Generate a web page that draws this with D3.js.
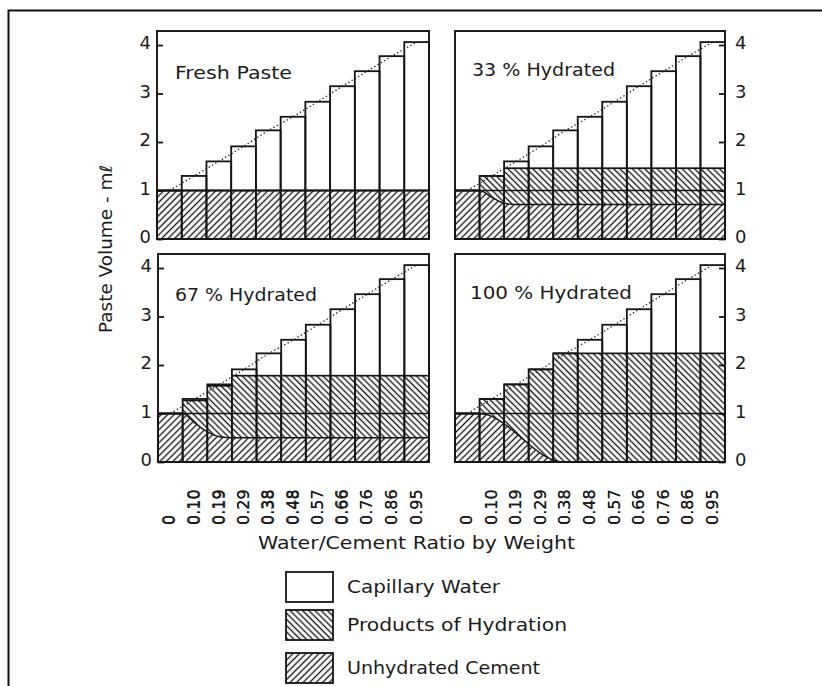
<!DOCTYPE html>
<html><head><meta charset="utf-8">
<script src="https://cdn.jsdelivr.net/npm/d3@7"></script>
<style>
body{margin:0;background:#fff}
svg{display:block}
text{font-family:"DejaVu Sans",sans-serif;fill:#1b1b1b}
</style>
</head><body>
<svg id="chart" width="822" height="686"></svg>
<script>
// ---------- data ----------
const categories = ["0","0.10","0.19","0.29","0.38","0.48","0.57","0.66","0.76","0.86","0.95"];
const totalVolume = [1.0, 1.3, 1.6, 1.91, 2.24, 2.52, 2.83, 3.15, 3.46, 3.77, 4.06];
const panelTitles = ["Fresh Paste", "33 % Hydrated", "67 % Hydrated", "100 % Hydrated"];
// top of the solid (hatched) part of each bar
const solidsFresh = [1, 1, 1, 1, 1, 1, 1, 1, 1, 1, 1];
const solids33 = [1.0, 1.3, 1.46, 1.46, 1.46, 1.46, 1.46, 1.46, 1.46, 1.46, 1.46];
const solids67 = [1.0, 1.27, 1.57, 1.78, 1.78, 1.78, 1.78, 1.78, 1.78, 1.78, 1.78];
const solids100 = [1.0, 1.3, 1.6, 1.91, 2.24, 2.24, 2.24, 2.24, 2.24, 2.24, 2.24];
// boundary of unhydrated cement: [position in bar units, volume]
const cementFresh = [[0, 1], [11, 1]];
const cement33 = [[0, 1], [1, 1], [1.5, 0.86], [2, 0.74], [2.5, 0.71], [11, 0.71]];
const cement67 = [[0, 1], [1, 1], [1.5, 0.8], [2, 0.62], [2.5, 0.52], [3, 0.5], [11, 0.5]];
const cement100 = [[0, 1], [1, 1], [4.4, 0], [11, 0]];
const yTicks = [0, 1, 2, 3, 4];
const legendLabels = ["Capillary Water", "Products of Hydration", "Unhydrated Cement"];
const axisTitleX = "Water/Cement Ratio by Weight";
const axisTitleY = "Paste Volume - mℓ";

// ---------- layout ----------
const panels = [
  {x0:157, x1:429, y0:239, side:"left",  title:panelTitles[0], solids:solidsFresh, cement:cementFresh, tx:175, ty:79, tl:117},
  {x0:455, x1:725, y0:239, side:"right", title:panelTitles[1], solids:solids33,    cement:cement33,    tx:472, ty:76, tl:143},
  {x0:158, x1:429, y0:462, side:"left",  title:panelTitles[2], solids:solids67,    cement:cement67,    tx:175, ty:301, tl:142},
  {x0:455, x1:725, y0:462, side:"right", title:panelTitles[3], solids:solids100,   cement:cement100,   tx:470, ty:299, tl:162}
];
const PH = 208;
const INK = "#151515";

const svg = d3.select("#chart");
svg.append("rect").attr("width",822).attr("height",686).attr("fill","#fff");

// hatch patterns
const defs = svg.append("defs");
function hatch(id, angle, size, sw){
  const p = defs.append("pattern").attr("id",id).attr("patternUnits","userSpaceOnUse")
    .attr("width",size).attr("height",size).attr("patternTransform",`rotate(${angle})`);
  p.append("rect").attr("width",size).attr("height",size).attr("fill","#fff");
  p.append("line").attr("x1",size/2).attr("y1",-1).attr("x2",size/2).attr("y2",size+1)
    .attr("stroke",INK).attr("stroke-width",sw);
}
hatch("cementHatch", 45, 4.6, 1.35);
hatch("productHatch", -45, 4.4, 1.35);

// outer frame
svg.append("path").attr("d","M8.5,686 V10.5 H822").attr("fill","none").attr("stroke","#111").attr("stroke-width",2);

panels.forEach(p => {
  const g = svg.append("g");
  const x = d3.scaleBand().domain(categories).range([p.x0, p.x1]).padding(0);
  const xs = d3.scaleLinear().domain([0, categories.length]).range([p.x0, p.x1]);
  const y = d3.scaleLinear().domain([0, PH/48.5]).range([p.y0, p.y0 - PH]);
  const bw = x.bandwidth();

  // products of hydration (solid region)
  g.selectAll("rect.prod").data(categories).join("rect")
    .attr("x", d => x(d)).attr("width", bw)
    .attr("y", (d,i) => y(p.solids[i])).attr("height", (d,i) => y(0) - y(p.solids[i]))
    .attr("fill","url(#productHatch)");

  // unhydrated cement area
  const area = d3.area().x(d => xs(d[0])).y0(y(0)).y1(d => y(d[1])).curve(d3.curveMonotoneX);
  g.append("path").attr("d", area(p.cement)).attr("fill","url(#cementHatch)");

  // original cement level line
  g.append("line").attr("x1",p.x0).attr("x2",p.x1).attr("y1",y(1)).attr("y2",y(1))
    .attr("stroke",INK).attr("stroke-width",1.5);
  // cement boundary line
  const line = d3.line().x(d => xs(d[0])).y(d => y(d[1])).curve(d3.curveMonotoneX);
  g.append("path").attr("d", line(p.cement)).attr("fill","none").attr("stroke",INK).attr("stroke-width",1.4);

  // top of solids per bar
  g.selectAll("line.sol").data(categories).join("line")
    .attr("x1", d => x(d)).attr("x2", d => x(d) + bw)
    .attr("y1", (d,i) => y(p.solids[i])).attr("y2", (d,i) => y(p.solids[i]))
    .attr("stroke",INK).attr("stroke-width",1.7);

  // bar outlines (total paste volume)
  g.selectAll("rect.bar").data(categories).join("rect")
    .attr("x", d => x(d)).attr("width", bw)
    .attr("y", (d,i) => y(totalVolume[i])).attr("height", (d,i) => y(0) - y(totalVolume[i]))
    .attr("fill","none").attr("stroke",INK).attr("stroke-width",1.8);

  // dotted total line
  const dot = d3.line().x(d => x(d) + bw/2).y((d,i) => y(totalVolume[i]));
  g.append("path").attr("d", dot(categories)).attr("fill","none").attr("stroke","#222")
    .attr("stroke-width",1.3).attr("stroke-dasharray","1.4,2.4");

  // panel frame
  g.append("rect").attr("x",p.x0).attr("y",p.y0-PH).attr("width",p.x1-p.x0).attr("height",PH)
    .attr("fill","none").attr("stroke",INK).attr("stroke-width",1.9);

  // y axis
  const ax = (p.side === "left" ? d3.axisLeft(y) : d3.axisRight(y))
    .tickValues(yTicks).tickSize(-6).tickPadding(p.side === "left" ? 6 : 10).tickFormat(d3.format("d"));
  const ag = svg.append("g").attr("transform",`translate(${p.side === "left" ? p.x0 : p.x1},0)`).call(ax);
  ag.select(".domain").remove();
  ag.selectAll(".tick line").attr("stroke",INK).attr("stroke-width",1.8);
  ag.selectAll(".tick text").attr("font-size",18).attr("font-family","DejaVu Sans, sans-serif")
    .attr("fill","#1b1b1b").attr("dy","0.2em");

  // x labels (rotated)
  svg.append("g").selectAll("text").data(categories).join("text")
    .attr("transform", d => `translate(${x(d) + bw/2 + 5},525) rotate(-90)`)
    .attr("text-anchor","start").attr("font-size",16).text(d => d);

  // panel title
  svg.append("text").attr("x",p.tx).attr("y",p.ty).attr("font-size",17)
    .attr("textLength",p.tl).attr("lengthAdjust","spacingAndGlyphs").text(p.title);
});

// axis titles
svg.append("text").attr("x",258).attr("y",549).attr("font-size",17)
  .attr("textLength",317).attr("lengthAdjust","spacingAndGlyphs").text(axisTitleX);
svg.append("text").attr("transform","translate(112,333) rotate(-90)").attr("font-size",17)
  .attr("textLength",168).attr("lengthAdjust","spacingAndGlyphs").text(axisTitleY);

// legend
const legendFill = ["#fff", "url(#productHatch)", "url(#cementHatch)"];
const legendTop = [572, 610, 653];
const legendLen = [153, 220, 193];
const lg = svg.append("g");
legendLabels.forEach((lab, i) => {
  lg.append("rect").attr("x",286).attr("y",legendTop[i]).attr("width",47).attr("height",30)
    .attr("fill",legendFill[i]).attr("stroke",INK).attr("stroke-width",1.8);
  lg.append("text").attr("x",347).attr("y",legendTop[i] + 21).attr("font-size",17)
    .attr("textLength",legendLen[i]).attr("lengthAdjust","spacingAndGlyphs").text(lab);
});
</script>
</body></html>
